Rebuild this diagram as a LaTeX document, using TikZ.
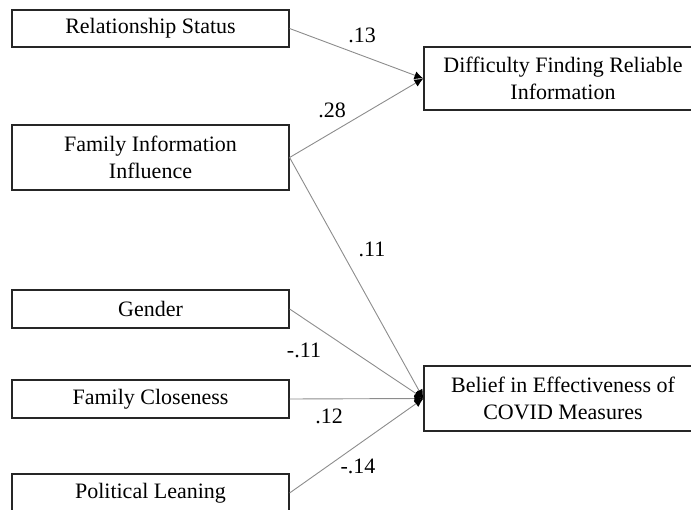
\documentclass[tikz,border=0pt]{standalone}
\usepackage{fontspec}
\setmainfont{Liberation Serif}
\usetikzlibrary{arrows.meta}
\begin{document}
\begin{tikzpicture}[x=1pt,y=-1pt,
  box/.style={draw=black!85,line width=1.2pt,inner sep=0pt,align=center,
    font=\fontsize{22}{26.5}\selectfont},
  path/.style={draw=black!45,line width=0.9pt,-{Latex[length=9pt,width=8pt,black]}},
  coef/.style={font=\fontsize{22}{26}\selectfont,inner sep=0pt}]
\useasboundingbox (0,0) rectangle (691,510);
\clip (0,0) rectangle (691,510);
\node[box,minimum width=277,minimum height=37] (rel) at (150.5,28.5) {\raisebox{-2pt}{Relationship Status}};
\node[box,minimum width=277,minimum height=65] (fii) at (150.5,157.5) {Family Information\\Influence};
\node[box,minimum width=277,minimum height=38] (gen) at (150.5,309) {Gender};
\node[box,minimum width=277,minimum height=38] (fcl) at (150.5,399) {Family Closeness};
\node[box,minimum width=277,minimum height=38] (pol) at (150.5,493) {Political Leaning};
\node[box,minimum width=278,minimum height=63] (dif) at (563,78.5) {Difficulty Finding Reliable\\Information};
\node[box,minimum width=278,minimum height=65] (bel) at (563,398.5) {Belief in Effectiveness of\\COVID Measures};
\draw[path] (rel.east) -- (dif.west);
\draw[path] (fii.east) -- (dif.west);
\draw[path] (fii.east) -- (bel.west);
\draw[path] (gen.east) -- (bel.west);
\draw[path] (fcl.east) -- (bel.west);
\draw[path] (pol.east) -- (bel.west);
\node[coef] (c1) at (362,35) {.13};
\node[coef] (c2) at (332,110) {.28};
\node[coef] (c3) at (372,249) {.11};
\node[coef] (c4) at (304,350) {-.11};
\node[coef] (c5) at (329,416) {.12};
\node[coef] (c6) at (358,466) {-.14};
\end{tikzpicture}
\end{document}
